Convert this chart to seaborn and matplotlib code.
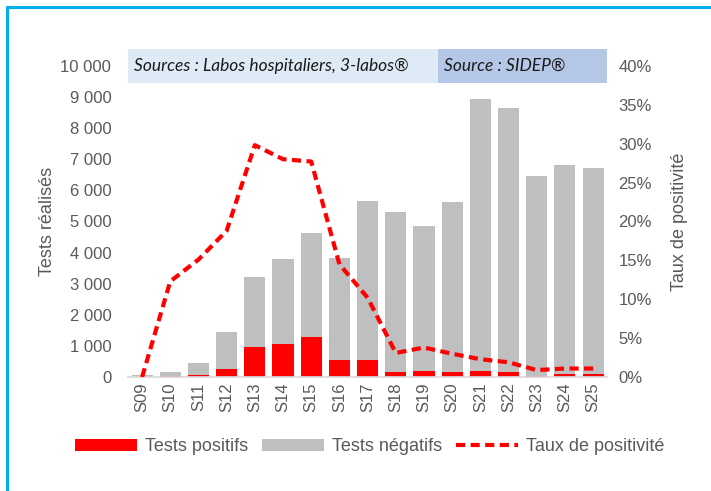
import numpy as np
import pandas as pd
import matplotlib.pyplot as plt
import seaborn as sns
from matplotlib.patches import Patch, Rectangle
from matplotlib.lines import Line2D
from matplotlib.ticker import FuncFormatter

sns.set_theme(style='white')
plt.rcParams['font.family'] = ['Liberation Sans', 'DejaVu Sans']

# Données
semaines = ['S09', 'S10', 'S11', 'S12', 'S13', 'S14', 'S15', 'S16', 'S17',
            'S18', 'S19', 'S20', 'S21', 'S22', 'S23', 'S24', 'S25']
positifs = [0, 20, 72, 275, 970, 1050, 1285, 546, 546,
            170, 200, 170, 200, 170, 50, 85, 85]
negatifs = [75, 140, 388, 1160, 2250, 2730, 3335, 3270, 5110,
            5135, 4655, 5445, 8730, 8490, 6410, 6720, 6645]
taux = [0.0, 12.3, 15.1, 18.8, 29.8, 28.0, 27.7, 14.5, 10.2,
        3.1, 3.8, 3.0, 2.3, 1.9, 0.9, 1.1, 1.1]

sources = ['Sources : Labos hospitaliers, 3-labos®', 'Source : SIDEP®']
source_debut = ['S09', 'S20']

df = pd.DataFrame({'semaine': semaines, 'positifs': positifs, 'negatifs': negatifs, 'taux': taux})
df['total'] = df['positifs'] + df['negatifs']

TXT = '#595959'
ROUGE = '#FF0000'
GRIS = '#BFBFBF'

fig = plt.figure(figsize=(7.11, 4.91), dpi=100)
ax = fig.add_axes([0.18, 0.232, 0.674, 0.634])

sns.barplot(data=df, x='semaine', y='total', color=GRIS, width=0.75,
            linewidth=0, saturation=1, ax=ax)
sns.barplot(data=df, x='semaine', y='positifs', color=ROUGE, width=0.75,
            linewidth=0, saturation=1, ax=ax)

ax.set_ylim(0, 10000)
ax.set_xlim(-0.5, len(semaines) - 0.5)
ax.set_yticks(np.arange(0, 10001, 1000))
ax.yaxis.set_major_formatter(FuncFormatter(lambda v, p: f'{int(v):,}'.replace(',', ' ')))
ax.set_xlabel('')
ax.set_ylabel('Tests réalisés', fontsize=13, color=TXT, labelpad=3)
ax.tick_params(axis='y', colors=TXT, labelsize=12, length=0, pad=12)
ax.tick_params(axis='x', colors=TXT, labelsize=12, length=0, rotation=90, pad=4)
ax.set_xticks(np.arange(len(semaines) + 1) - 0.5, minor=True)
ax.tick_params(axis='x', which='minor', length=5, color='#D9D9D9', width=1)
for s in ['top', 'left', 'right']:
    ax.spines[s].set_visible(False)
ax.spines['bottom'].set_color('#D9D9D9')

# Bandeau des sources
fin = [semaines.index(source_debut[1]) - 0.5, len(semaines) - 0.5]
debut = [-0.5, semaines.index(source_debut[1]) - 0.5]
couleurs = ['#DEEAF6', '#B4C7E7']
for txt, d, f, c in zip(sources, debut, fin, couleurs):
    ax.add_patch(Rectangle((d, 9450), f - d, 1100, facecolor=c, edgecolor='none',
                           clip_on=False, zorder=0))
    ax.text(d + 0.2, 10000, txt, fontsize=12.5, style='italic', color='#1a1a1a',
            va='center', ha='left', family=['Lato', 'DejaVu Sans'], clip_on=False)

ax2 = ax.twinx()
sns.lineplot(x=np.arange(len(semaines)), y=df['taux'], color=ROUGE, linewidth=3,
             linestyle=(0, (2.2, 1.3)), ax=ax2)
ax2.set_ylim(0, 40)
ax2.set_yticks(np.arange(0, 41, 5))
ax2.yaxis.set_major_formatter(FuncFormatter(lambda v, p: f'{int(v)}%'))
ax2.set_ylabel('Taux de positivité', fontsize=13, color=TXT, labelpad=14)
ax2.tick_params(axis='y', colors=TXT, labelsize=12, length=0, pad=8)
for s in ['top', 'left', 'right', 'bottom']:
    ax2.spines[s].set_visible(False)
ax2.grid(False)
ax.grid(False)

handles = [Patch(facecolor=ROUGE, edgecolor='none'),
           Patch(facecolor=GRIS, edgecolor='none'),
           Line2D([0], [0], color=ROUGE, linewidth=3, linestyle=(0, (2.2, 1.3)))]
labels = ['Tests positifs', 'Tests négatifs', 'Taux de positivité']
leg = fig.legend(handles, labels, loc='center', bbox_to_anchor=(0.52, 0.09), ncol=3,
                 frameon=False, fontsize=13, handlelength=3.4, handleheight=0.6,
                 columnspacing=0.8, handletextpad=0.45)
for t in leg.get_texts():
    t.set_color(TXT)

# Cadre bleu
fig.add_artist(Line2D([0.01, 1.0], [0.986, 0.986], color='#00B0F0', linewidth=2.2,
                      transform=fig.transFigure))
fig.add_artist(Line2D([0.01, 0.01], [0.0, 0.986], color='#00B0F0', linewidth=2.2,
                      transform=fig.transFigure))

fig.savefig('out.png', dpi=100)
